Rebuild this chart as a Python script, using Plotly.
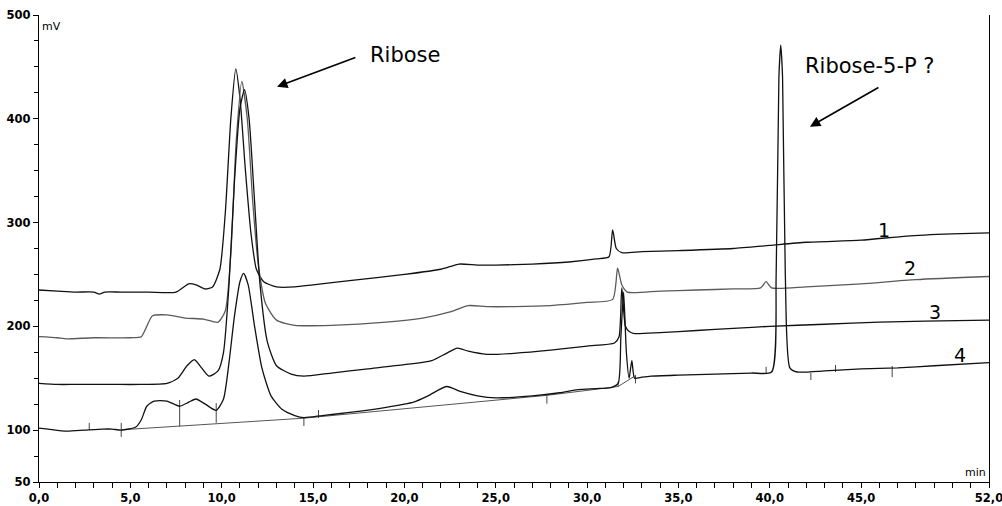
import plotly.graph_objects as go

# ---------------- data ----------------
t1 = [0, 1, 2, 3, 3.3, 3.6, 4.5, 6, 7.5, 8.2, 8.6, 9.1, 9.5, 9.9, 10.2, 10.5, 10.77, 11.0, 11.3, 11.6, 11.9, 12.3, 13, 14, 15, 17, 20, 22, 23, 24, 25, 27, 29, 30.5, 31.2, 31.4, 31.6, 31.9, 33, 35, 38, 40, 42, 45, 47.5, 50, 52]
v1 = [235, 234, 233, 233, 231, 233, 233, 233, 233, 241, 240, 236, 238, 255, 310, 400, 448, 420, 350, 290, 255, 243, 238, 238, 240, 244, 250, 255, 260, 259, 259, 260, 262, 265, 267, 293, 275, 271, 272, 273, 275, 278, 281, 283, 287, 289, 290]

t2 = [0, 1, 1.5, 3, 5, 5.6, 5.9, 6.2, 7, 8, 9, 9.8, 10.2, 10.5, 10.8, 11.1, 11.4, 11.7, 12.0, 12.4, 13, 14, 16, 19, 21, 22.5, 23.5, 24.5, 26, 28, 30, 31.4, 31.67, 31.9, 32.2, 34, 36, 38, 39.5, 39.8, 40.1, 42, 45, 48, 52]
v2 = [190, 189, 188, 189, 189, 190, 200, 210, 211, 208, 207, 204, 215, 270, 380, 436, 400, 320, 260, 222, 206, 201, 201, 204, 208, 214, 220, 219, 219, 220, 223, 226, 256, 240, 233, 234, 235, 236, 237, 243, 237, 238, 241, 245, 248]

t3 = [0, 1, 2, 4, 5.5, 7, 7.6, 8.1, 8.5, 8.9, 9.3, 9.8, 10.1, 10.4, 10.7, 11.0, 11.25, 11.5, 11.8, 12.1, 12.5, 13, 13.8, 14.5, 16, 18, 20, 21.5, 22.3, 22.9, 23.5, 24.5, 26, 28, 30, 31.5, 31.75, 31.9, 32.1, 32.3, 32.6, 34, 36, 38, 40, 43, 46, 48.5, 52]
v3 = [145, 144, 144, 144, 144, 145, 150, 162, 168, 160, 152, 157, 175, 240, 340, 410, 428, 400, 320, 240, 185, 162, 154, 152, 155, 159, 163, 167, 174, 179, 176, 173, 174, 177, 181, 184, 190, 237, 200, 195, 193, 194, 196, 198, 200, 202, 204, 205, 206]

t4 = [0, 0.5, 1.5, 2.5, 3.5, 4.0, 4.5, 5.3, 5.6, 5.9, 6.3, 7.0, 7.7, 8.2, 8.6, 9.1, 9.7, 10.1, 10.4, 10.7, 11.0, 11.2, 11.45, 11.8, 12.2, 12.7, 13.3, 14.0, 14.5, 15.5, 17, 19, 20.5, 21.3, 22.3, 23.1, 24, 25, 27, 28.5, 29.5, 30.5, 31.3, 31.7, 31.85, 32.0, 32.15, 32.3, 32.45, 32.6, 33.0, 33.5, 35, 37, 39, 40.1, 40.35, 40.5, 40.6, 40.7, 40.85, 41.1, 41.5, 43, 45, 47, 49, 52]
v4 = [102, 101, 99, 100, 101, 101, 100, 103, 110, 123, 128, 128, 123, 127, 130, 125, 119, 130, 165, 210, 243, 251, 240, 200, 160, 133, 120, 114, 112, 114, 117, 122, 127, 133, 142, 137, 133, 131, 133, 136, 139, 140, 141, 145, 190, 233, 175, 150, 167, 150, 151, 152, 153, 154, 155, 156, 250, 440, 471, 440, 250, 160, 156, 157, 159, 160, 162, 165]

# integration baseline drawn under chromatogram 4
base_t = [4.5, 14.5, 27.8, 31.7, 32.6]
base_v = [100.3, 111.5, 133.5, 142, 152]

# integration event markers of chromatogram 4 (time, low mV, high mV)
event_t = [2.75, 4.5, 7.7, 9.7, 14.5, 15.3, 27.8, 31.7, 32.65, 39.8, 42.25, 43.6, 46.7]
event_lo = [100, 93.5, 103.5, 107, 104, 111.7, 125.5, 141.8, 145, 155, 148.3, 156, 151]
event_hi = [107, 107, 129, 126, 111.7, 119.4, 133, 146.7, 153, 161, 155, 162.7, 161.8]

trace_labels = ["1", "2", "3", "4"]
label_t = [46.25, 47.67, 49.04, 50.4]
label_v = [292.8, 255.9, 214, 172.4]

x_tickvals = [0, 5, 10, 15, 20, 25, 30, 35, 40, 45, 52]
x_ticktext = ["0,0", "5,0", "10,0", "15,0", "20,0", "25,0", "30,0", "35,0", "40,0", "45,0", "52,0"]
y_tickvals = [50, 100, 200, 300, 400, 500]
y_ticktext = ["50", "100", "200", "300", "400", "500"]

# ---------------- figure ----------------
fig = go.Figure()
LINE = dict(shape="spline", smoothing=0.6)

fig.add_trace(go.Scatter(x=base_t, y=base_v, mode="lines",
                         line=dict(color="#555555", width=1), hoverinfo="skip"))

ex, ey = [], []
for t, lo, hi in zip(event_t, event_lo, event_hi):
    ex += [t, t, None]
    ey += [lo, hi, None]
fig.add_trace(go.Scatter(x=ex, y=ey, mode="lines",
                         line=dict(color="#444444", width=1), hoverinfo="skip"))

for t, v, col in [(t1, v1, "#111111"), (t2, v2, "#5a5a5a"), (t3, v3, "#111111"), (t4, v4, "#111111")]:
    fig.add_trace(go.Scatter(x=t, y=v, mode="lines",
                             line=dict(color=col, width=1.3, **LINE)))

FONT = "DejaVu Sans"
for lab, lt, lv in zip(trace_labels, label_t, label_v):
    fig.add_annotation(x=lt, y=lv, text=lab, showarrow=False,
                       font=dict(family=FONT, size=19, color="black"))

fig.add_annotation(x=20.03, y=461.5, text="Ribose", showarrow=False,
                   font=dict(family=FONT, size=21, color="black"))
fig.add_annotation(x=45.48, y=451, text="Ribose-5-P ?", showarrow=False,
                   font=dict(family=FONT, size=21, color="black"))
fig.add_annotation(x=13.03, y=430.9, ax=17.4, ay=459.5, axref="x", ayref="y",
                   text="", showarrow=True, arrowhead=2, arrowsize=1.3,
                   arrowwidth=1.6, arrowcolor="black")
fig.add_annotation(x=42.2, y=392.4, ax=46.03, ay=430.9, axref="x", ayref="y",
                   text="", showarrow=True, arrowhead=2, arrowsize=1.3,
                   arrowwidth=1.6, arrowcolor="black")

fig.add_annotation(x=0, y=1, xref="paper", yref="paper", xanchor="left", yanchor="top",
                   xshift=1, yshift=-3, text="mV", showarrow=False,
                   font=dict(family=FONT, size=11, color="black"))
fig.add_annotation(x=1, y=0, xref="paper", yref="paper", xanchor="right", yanchor="bottom",
                   xshift=-1, yshift=1, text="min", showarrow=False,
                   font=dict(family=FONT, size=11, color="black"))

fig.update_layout(
    width=1002, height=506,
    margin=dict(l=39, r=13, t=15, b=24, autoexpand=False),
    paper_bgcolor="white", plot_bgcolor="white",
    showlegend=False,
    xaxis=dict(range=[0, 52], tickvals=x_tickvals, ticktext=x_ticktext, automargin=False,
               ticklabeloverflow="allow",
               showgrid=False, zeroline=False, showline=True, linecolor="black",
               linewidth=1.3, ticks="outside", ticklen=5, tickcolor="black",
               tickfont=dict(family=FONT, size=11.5, color="black", weight="bold"),
               minor=dict(dtick=1, tick0=0, ticks="outside", ticklen=5, tickcolor="black")),
    yaxis=dict(range=[50, 500], tickvals=y_tickvals, ticktext=y_ticktext, automargin=False,
               ticklabeloverflow="allow",
               showgrid=False, zeroline=False, showline=True, linecolor="black",
               linewidth=1.3, mirror=True, ticks="outside", ticklen=5, tickcolor="black",
               tickfont=dict(family=FONT, size=11.5, color="black", weight="bold"),
               minor=dict(dtick=25, tick0=0, ticks="outside", ticklen=4, tickcolor="black")),
)

fig.write_html("out.html", config={"displayModeBar": False},
               post_script="document.body.style.margin='0';document.body.style.overflow='hidden';")
